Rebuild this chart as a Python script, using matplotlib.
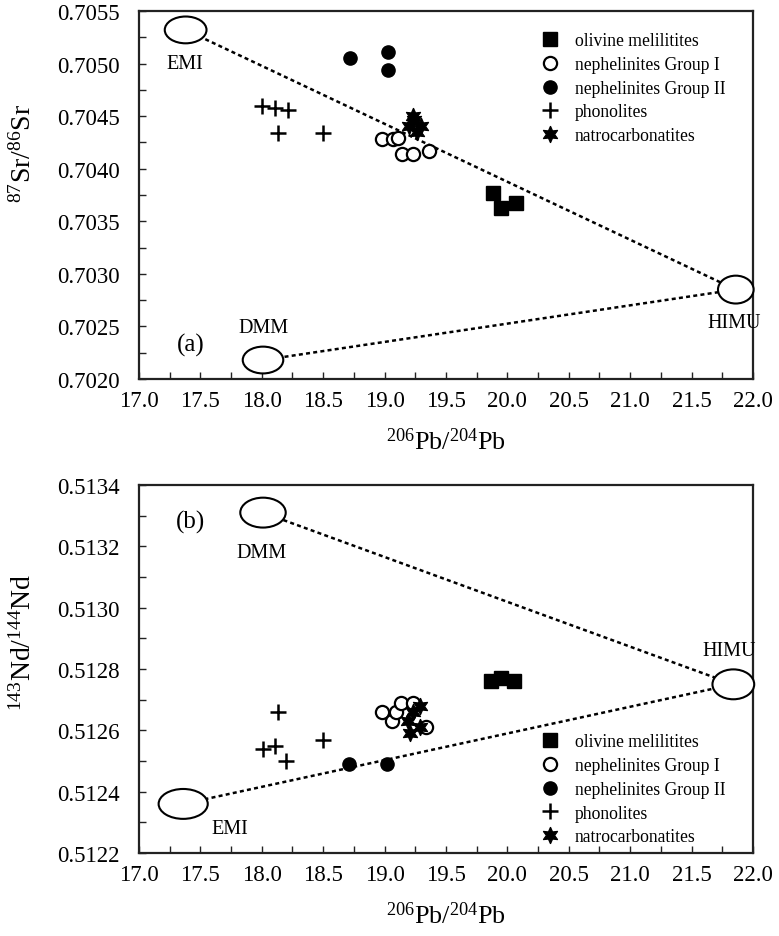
import matplotlib
matplotlib.use("Agg")
import matplotlib.pyplot as plt
from matplotlib.patches import Ellipse
from matplotlib.ticker import MultipleLocator, FormatStrFormatter

plt.rcParams['font.family'] = ['Liberation Serif', 'DejaVu Serif']
plt.rcParams['mathtext.fontset'] = 'custom'
plt.rcParams['mathtext.rm'] = 'Liberation Serif'
plt.rcParams['mathtext.it'] = 'Liberation Serif:italic'

# ---------------- data ----------------
series_names = ["olivine melilitites", "nephelinites Group I", "nephelinites Group II",
                "phonolites", "natrocarbonatites"]

# Panel (a): 206Pb/204Pb vs 87Sr/86Sr
olm_pb_a = [19.88, 19.95, 20.07]
olm_sr = [0.70377, 0.70363, 0.70367]
nep1_pb_a = [18.98, 19.07, 19.11, 19.14, 19.23, 19.36]
nep1_sr = [0.70428, 0.70428, 0.70429, 0.70414, 0.70414, 0.70417]
nep2_pb_a = [18.72, 19.03, 19.03]
nep2_sr = [0.70505, 0.70511, 0.70494]
pho_pb_a = [18.00, 18.11, 18.21, 18.13, 18.50]
pho_sr = [0.70460, 0.70458, 0.70456, 0.70434, 0.70434]
nat_pb_a = [19.23, 19.20, 19.30, 19.26, 19.24]
nat_sr = [0.70450, 0.70441, 0.70441, 0.70435, 0.70446]

# Panel (b): 206Pb/204Pb vs 143Nd/144Nd
olm_pb_b = [19.87, 19.95, 20.05]
olm_nd = [0.51276, 0.51277, 0.51276]
nep1_pb_b = [18.98, 19.06, 19.09, 19.13, 19.23, 19.34]
nep1_nd = [0.51266, 0.51263, 0.51266, 0.51269, 0.51269, 0.51261]
nep2_pb_b = [18.71, 19.02]
nep2_nd = [0.51249, 0.51249]
pho_pb_b = [18.13, 18.01, 18.11, 18.20, 18.50]
pho_nd = [0.51266, 0.51254, 0.51255, 0.51250, 0.51257]
nat_pb_b = [19.29, 19.23, 19.19, 19.29, 19.21]
nat_nd = [0.51268, 0.51266, 0.51263, 0.51261, 0.51259]

# Mantle end-members (centre, ellipse size)
em_names_a = ["EMI", "DMM", "HIMU"]
em_pb_a = [17.38, 18.01, 21.86]
em_sr = [0.70532, 0.70218, 0.70285]
em_w_a = [0.34, 0.33, 0.29]
em_h_a = [0.000255, 0.000255, 0.000265]

em_names_b = ["EMI", "DMM", "HIMU"]
em_pb_b = [17.36, 18.01, 21.84]
em_nd = [0.51236, 0.51331, 0.51275]
em_w_b = [0.40, 0.37, 0.34]
em_h_b = [0.0000975, 0.0000975, 0.0000975]

# mixing lines between end-members (index pairs)
lines_a = [(0, 2), (1, 2)]
lines_b = [(0, 2), (1, 2)]

fig = plt.figure(figsize=(7.79, 9.37), dpi=100)
axA = fig.add_axes([0.1784, 0.5945, 0.7882, 0.3927])
axB = fig.add_axes([0.1784, 0.0886, 0.7882, 0.3927])

TICKFS = 16.5
LEGFS = 12.7
XLABFS = 18.8
YLABFS = 20
EMFS = 14.5


def style(ax, ymin, ymax, ymaj, ymin_step, yfmt):
    ax.set_xlim(17.0, 22.0)
    ax.set_ylim(ymin, ymax)
    ax.xaxis.set_major_locator(MultipleLocator(0.5))
    ax.xaxis.set_minor_locator(MultipleLocator(0.25))
    ax.xaxis.set_major_formatter(FormatStrFormatter('%.1f'))
    ax.yaxis.set_major_locator(MultipleLocator(ymaj))
    ax.yaxis.set_minor_locator(MultipleLocator(ymin_step))
    ax.yaxis.set_major_formatter(FormatStrFormatter(yfmt))
    ax.tick_params(which='both', direction='in', top=False, right=False,
                   labelsize=TICKFS, width=1.0, color='#222222')
    ax.tick_params(axis='y', which='major', length=5, pad=14)
    ax.tick_params(axis='x', which='major', length=5, pad=8)
    ax.tick_params(which='minor', length=5)
    for s in ax.spines.values():
        s.set_linewidth(1.6)
        s.set_color('#222222')


def scatter_all(ax, pts):
    (ox, oy), (n1x, n1y), (n2x, n2y), (px, py), (sx, sy) = pts
    ax.plot(ox, oy, ls='none', marker='s', ms=10, mfc='black', mec='black',
            label=series_names[0], zorder=5)
    ax.plot(n1x, n1y, ls='none', marker='o', ms=9.5, mfc='white', mec='black', mew=1.6,
            label=series_names[1], zorder=5)
    ax.plot(n2x, n2y, ls='none', marker='o', ms=9.5, mfc='black', mec='black',
            label=series_names[2], zorder=5)
    ax.plot(px, py, ls='none', marker='+', ms=11, mec='black', mew=1.8,
            label=series_names[3], zorder=5)
    ax.plot(sx, sy, ls='none', marker=(6, 1, 0), ms=12, mfc='black', mec='black', mew=0.8,
            label=series_names[4], zorder=6)


def endmembers(ax, xs, ys, ws, hs, pairs):
    for i, j in pairs:
        ax.plot([xs[i], xs[j]], [ys[i], ys[j]], color='black', lw=1.8,
                ls=(0, (1.6, 1.3)), zorder=2, clip_on=False)
    for x, y, w, h in zip(xs, ys, ws, hs):
        ax.add_patch(Ellipse((x, y), w, h, facecolor='white', edgecolor='black',
                             lw=1.5, zorder=3, clip_on=False))


legend_kw = dict(loc='upper left', frameon=False, fontsize=LEGFS, handlelength=1.0,
                 handletextpad=0.9, labelspacing=0.38, borderaxespad=0, borderpad=0,
                 numpoints=1)

# ---------- panel (a) ----------
style(axA, 0.7020, 0.7055, 0.0005, 0.00025, '%.4f')
endmembers(axA, em_pb_a, em_sr, em_w_a, em_h_a, lines_a)
scatter_all(axA, [(olm_pb_a, olm_sr), (nep1_pb_a, nep1_sr), (nep2_pb_a, nep2_sr),
                  (pho_pb_a, pho_sr), (nat_pb_a, nat_sr)])
axA.text(17.375, 0.70500, "EMI", fontsize=EMFS, ha='center', va='center')
axA.text(18.01, 0.70249, "DMM", fontsize=EMFS, ha='center', va='center')
axA.text(21.85, 0.70254, "HIMU", fontsize=EMFS, ha='center', va='center')
axA.text(17.42, 0.70233, "(a)", fontsize=18, ha='center', va='center')
axA.set_xlabel(r'$^{206}$Pb/$^{204}$Pb', fontsize=XLABFS, labelpad=12)
axA.set_ylabel(r'$^{87}$Sr/$^{86}$Sr', fontsize=YLABFS)
axA.yaxis.set_label_coords(-0.166, 0.615)
axA.legend(bbox_to_anchor=(0.655, 0.942), **legend_kw)

# ---------- panel (b) ----------
style(axB, 0.5122, 0.5134, 0.0002, 0.0001, '%.4f')
endmembers(axB, em_pb_b, em_nd, em_w_b, em_h_b, lines_b)
scatter_all(axB, [(olm_pb_b, olm_nd), (nep1_pb_b, nep1_nd), (nep2_pb_b, nep2_nd),
                  (pho_pb_b, pho_nd), (nat_pb_b, nat_nd)])
axB.text(17.42, 0.51328, "(b)", fontsize=18, ha='center', va='center')
axB.text(18.00, 0.51318, "DMM", fontsize=EMFS, ha='center', va='center')
axB.text(21.81, 0.51286, "HIMU", fontsize=EMFS, ha='center', va='center')
axB.text(17.74, 0.51228, "EMI", fontsize=EMFS, ha='center', va='center')
axB.set_xlabel(r'$^{206}$Pb/$^{204}$Pb', fontsize=XLABFS, labelpad=12)
axB.set_ylabel(r'$^{143}$Nd/$^{144}$Nd', fontsize=YLABFS)
axB.yaxis.set_label_coords(-0.166, 0.576)
axB.legend(bbox_to_anchor=(0.655, 0.325), **legend_kw)

fig.savefig("out.png", dpi=100)
